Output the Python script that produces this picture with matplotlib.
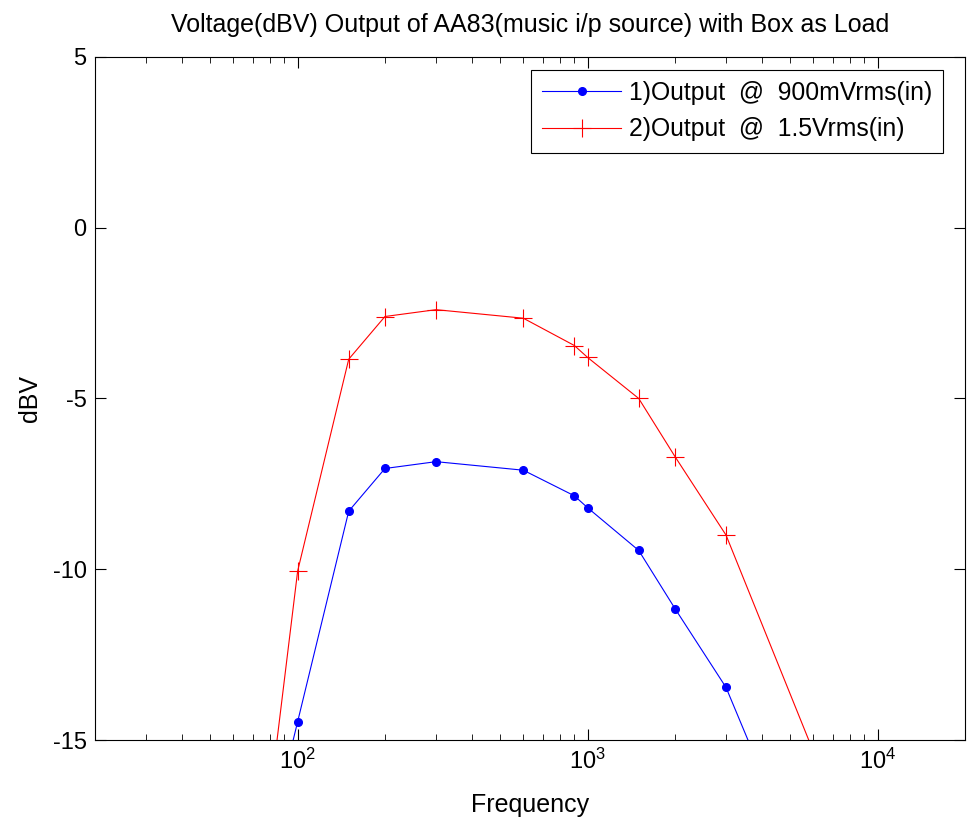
import matplotlib
matplotlib.use('Agg')
import matplotlib.pyplot as plt

plt.rcParams['font.family'] = ['Liberation Sans', 'DejaVu Sans']
plt.rcParams['axes.unicode_minus'] = False

# frequency points (Hz) and output levels (dBV)
freq = [50, 100, 150, 200, 300, 600, 900, 1000, 1500, 2000, 3000, 10000]
out_900mv = [-25.0, -14.46, -8.3, -7.05, -6.85, -7.1, -7.85, -8.2, -9.45, -11.15, -13.46, -24.1]
out_1v5 = [-31.0, -10.05, -3.85, -2.6, -2.4, -2.65, -3.45, -3.8, -5.0, -6.7, -9.0, -20.0]

labels = ['1)Output  @  900mVrms(in)', '2)Output  @  1.5Vrms(in)']

fig = plt.figure(figsize=(9.75, 8.25), dpi=100)
ax = fig.add_axes([0.0974, 0.103, 0.8923, 0.828])

ax.semilogx(freq, out_900mv, color='blue', marker='.', markersize=11,
            linewidth=0.8, label=labels[0])
ax.semilogx(freq, out_1v5, color='red', marker='+', markersize=13,
            markeredgewidth=0.8, linewidth=0.8, label=labels[1])

ax.set_xlim(20, 20000)
ax.set_ylim(-15, 5)
ax.set_yticks([-15, -10, -5, 0, 5])

ax.tick_params(which='both', direction='in', top=True, right=True, labelsize=17)
ax.tick_params(which='major', length=8, pad=6)
ax.tick_params(which='minor', length=4)
for s in ax.spines.values():
    s.set_linewidth(0.8)

ax.set_title('Voltage(dBV) Output of AA83(music i/p source) with Box as Load',
             fontsize=18, pad=18)
ax.set_xlabel('Frequency', fontsize=18, labelpad=14)
ax.set_ylabel('dBV', fontsize=18, labelpad=8)

leg = ax.legend(loc='upper right', bbox_to_anchor=(0.975, 0.981),
                fontsize=17.8, fancybox=False, edgecolor='black',
                framealpha=1, handlelength=3.2, handletextpad=0.3,
                borderpad=0.45, borderaxespad=0)
leg.get_frame().set_linewidth(0.8)

fig.savefig('out.png')
